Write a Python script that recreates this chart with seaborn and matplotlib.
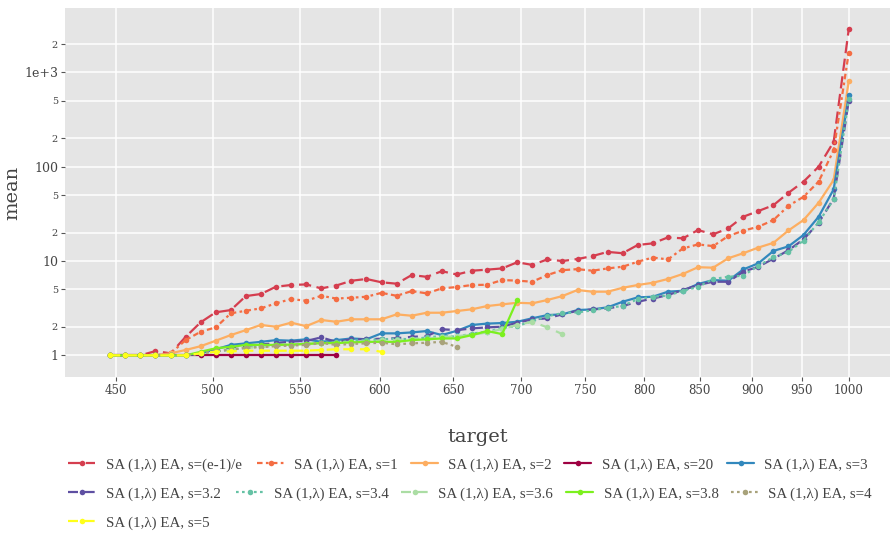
import matplotlib
matplotlib.use('Agg')
import matplotlib.pyplot as plt
import seaborn as sns
import pandas as pd
from matplotlib.lines import Line2D
from matplotlib.ticker import NullLocator

# target values (x) shared by all runs
target = [447.2, 454.6, 462.1, 469.8, 477.6, 485.5, 493.5, 501.7, 510.0, 518.4,
          527.0, 535.7, 544.6, 553.6, 562.8, 572.1, 581.6, 591.2, 601.0, 611.0,
          621.1, 631.4, 641.8, 652.4, 663.3, 674.2, 685.4, 696.8, 708.3, 720.0,
          731.9, 744.1, 756.4, 768.9, 781.6, 794.6, 807.7, 821.1, 834.7, 848.5,
          862.6, 876.9, 891.4, 906.2, 921.2, 936.4, 951.9, 967.7, 983.7, 1000.0]

mean_s_e = [1.0, 1.0, 1.0, 1.11, 1.05, 1.57, 2.24, 2.86, 3.02, 4.25,
            4.47, 5.34, 5.57, 5.65, 5.13, 5.5, 6.18, 6.45, 5.95, 5.75,
            7.1, 6.8, 7.8, 7.2, 7.9, 8.1, 8.35, 9.7, 9.1, 10.4,
            10.0, 10.5, 11.3, 12.5, 12.1, 14.8, 15.4, 17.8, 17.4, 21.3,
            19.2, 22.2, 29.5, 33.9, 39.1, 52.9, 69.5, 100.0, 184.0, 2870.0]
mean_s1 = [1.0, 1.0, 1.0, 1.0, 1.05, 1.45, 1.78, 1.98, 2.79, 2.97,
           3.15, 3.56, 3.95, 3.79, 4.28, 4.0, 4.08, 4.18, 4.6, 4.28,
           4.8, 4.54, 5.13, 5.3, 5.57, 5.6, 6.28, 6.2, 6.03, 7.1,
           8.0, 8.2, 7.9, 8.35, 8.7, 9.83, 10.9, 10.4, 13.6, 15.0,
           14.4, 18.4, 21.0, 23.1, 27.2, 38.5, 48.0, 69.5, 150.0, 1620.0]
mean_s2 = [1.0, 1.0, 1.0, 1.0, 1.05, 1.14, 1.25, 1.43, 1.64, 1.85,
           2.1, 2.01, 2.22, 2.04, 2.37, 2.27, 2.41, 2.41, 2.41, 2.72,
           2.63, 2.83, 2.83, 2.95, 3.08, 3.33, 3.47, 3.61, 3.56, 3.86,
           4.25, 4.93, 4.73, 4.73, 5.2, 5.57, 5.88, 6.45, 7.3, 8.6,
           8.5, 10.7, 12.1, 13.9, 15.6, 21.1, 27.2, 41.5, 72.5, 809.0]
mean_s20 = [1.0, 1.0, 1.0, 1.0, 1.0, 1.0, 1.0, 1.0, 1.0, 1.0,
            1.0, 1.0, 1.0, 1.0, 1.0, 1.0]
mean_s3 = [1.0, 1.0, 1.0, 1.0, 1.0, 1.0, 1.05, 1.16, 1.29, 1.34,
           1.39, 1.45, 1.43, 1.48, 1.39, 1.45, 1.51, 1.48, 1.71, 1.71,
           1.75, 1.81, 1.64, 1.82, 2.1, 2.17, 2.2, 2.27, 2.47, 2.67,
           2.72, 3.02, 3.07, 3.23, 3.7, 4.12, 4.18, 4.73, 4.84, 5.7,
           6.28, 6.18, 8.15, 9.46, 12.8, 14.3, 18.9, 29.5, 57.6, 573.0]
mean_s32 = [1.0, 1.0, 1.0, 1.0, 1.0, 1.0, 1.05, 1.12, 1.2, 1.25,
            1.3, 1.35, 1.4, 1.42, 1.55, 1.39, 1.48, 1.48, 1.5, 1.52,
            1.57, 1.6, 1.89, 1.85, 1.93, 1.98, 2.01, 2.22, 2.4, 2.47,
            2.72, 2.97, 3.07, 3.15, 3.33, 3.7, 4.0, 4.36, 4.93, 5.57,
            6.03, 6.03, 7.7, 8.7, 10.6, 13.0, 17.0, 25.4, 46.0, 500.0]
mean_s34 = [1.0, 1.0, 1.0, 1.0, 1.0, 1.0, 1.05, 1.1, 1.15, 1.2,
            1.25, 1.28, 1.3, 1.33, 1.35, 1.38, 1.42, 1.45, 1.48, 1.5,
            1.48, 1.55, 1.6, 1.58, 1.7, 1.78, 1.95, 2.05, 2.3, 2.6,
            2.8, 2.85, 3.0, 3.2, 3.33, 3.95, 4.18, 4.3, 4.84, 5.3,
            6.45, 6.8, 7.0, 8.9, 11.0, 12.5, 16.5, 25.8, 45.0, 520.0]
mean_s36 = [1.0, 1.0, 1.0, 1.0, 1.0, 1.0, 1.05, 1.1, 1.15, 1.2,
            1.22, 1.28, 1.3, 1.32, 1.35, 1.35, 1.4, 1.4, 1.45, 1.45,
            1.5, 1.5, 1.55, 1.6, 1.65, 1.75, 1.9, 2.1, 2.27, 1.98,
            1.68]
mean_s38 = [1.0, 1.0, 1.0, 1.0, 1.0, 1.0, 1.09, 1.19, 1.23, 1.29,
            1.29, 1.29, 1.3, 1.32, 1.35, 1.35, 1.37, 1.39, 1.39, 1.39,
            1.45, 1.48, 1.51, 1.51, 1.64, 1.81, 1.68, 3.86]
mean_s4 = [1.0, 1.0, 1.0, 1.0, 1.0, 1.0, 1.05, 1.1, 1.15, 1.2,
           1.22, 1.25, 1.27, 1.29, 1.35, 1.29, 1.32, 1.34, 1.36, 1.31,
           1.34, 1.36, 1.39, 1.23]
mean_s5 = [1.0, 1.0, 1.0, 1.0, 1.0, 1.0, 1.05, 1.09, 1.1, 1.12,
           1.12, 1.12, 1.12, 1.12, 1.14, 1.16, 1.16, 1.16, 1.09]

names = ['SA (1,λ) EA, s=(e-1)/e', 'SA (1,λ) EA, s=1', 'SA (1,λ) EA, s=2',
         'SA (1,λ) EA, s=20', 'SA (1,λ) EA, s=3', 'SA (1,λ) EA, s=3.2',
         'SA (1,λ) EA, s=3.4', 'SA (1,λ) EA, s=3.6', 'SA (1,λ) EA, s=3.8',
         'SA (1,λ) EA, s=4', 'SA (1,λ) EA, s=5']
values = [mean_s_e, mean_s1, mean_s2, mean_s20, mean_s3, mean_s32,
          mean_s34, mean_s36, mean_s38, mean_s4, mean_s5]

colors = ['#d53e4f', '#f46d43', '#fdae61', '#9e0142', '#3288bd', '#5e4fa2',
          '#66c2a5', '#abdda4', '#7cf01e', '#a8a27a', '#ffff1a']
dash_list = [(5.5, 2.5), (2.5, 1.5, 1.2, 1.5), '', '', '', (4.5, 3),
             (1.2, 1.5), (4.5, 3), '', (1.2, 1.5), (4.5, 3)]

rows = []
for name, vals in zip(names, values):
    for t, m in zip(target, vals):
        rows.append((name, t, m))
df = pd.DataFrame(rows, columns=['algo', 'target', 'mean'])

sns.set_theme(style='darkgrid', rc={
    'axes.facecolor': '#e5e5e5',
    'grid.color': 'white',
    'grid.linewidth': 1.1,
    'xtick.bottom': True, 'ytick.left': True,
    'xtick.major.size': 3, 'ytick.major.size': 3,
    'xtick.major.width': 0.8, 'ytick.major.width': 0.8,
    'xtick.color': '#555555', 'ytick.color': '#555555',
    'xtick.major.pad': 2, 'ytick.major.pad': 2,
})
plt.rcParams['font.family'] = ['DejaVu Serif', 'DejaVu Sans']

fig, ax = plt.subplots(figsize=(8.92, 5.35), dpi=100)
fig.subplots_adjust(left=0.0729, right=0.9978, top=0.985, bottom=0.2953)
ax.set_xscale('log')
ax.set_yscale('log')

palette = dict(zip(names, colors))
dashes = dict(zip(names, dash_list))
sns.lineplot(data=df, x='target', y='mean', hue='algo', style='algo',
             hue_order=names, style_order=names, palette=palette,
             dashes=dashes, markers={n: 'o' for n in names},
             markersize=4, markeredgewidth=0, linewidth=1.6,
             errorbar=None, sort=False, legend=False, ax=ax)

ax.set_xlim(425.7, 1046)
ax.set_ylim(0.589, 4819)
xt = [450, 500, 550, 600, 650, 700, 750, 800, 850, 900, 950, 1000]
ax.set_xticks(xt)
ax.set_xticklabels([str(v) for v in xt], fontsize=8.5, color='#444444')
yt = [1, 2, 5, 10, 20, 50, 100, 200, 500, 1000, 2000]
ylab = ['1', '2', '5', '10', '2', '5', '100', '2', '5', '1e+3', '2']
ax.set_yticks(yt)
ax.set_yticklabels(ylab, color='#444444')
for lab, txt in zip(ax.get_yticklabels(), ylab):
    lab.set_fontsize(9 if txt in ('1', '10', '100', '1e+3') else 7)
ax.xaxis.set_minor_locator(NullLocator())
ax.yaxis.set_minor_locator(NullLocator())
for sp in ax.spines.values():
    sp.set_visible(False)

ax.set_xlabel('target', fontsize=14, color='#444444', labelpad=22)
ax.set_ylabel('mean', fontsize=14, color='#444444', labelpad=2)

# legend laid out like the original flowing horizontal legend
pos = [(68, 465), (257, 465), (411, 465), (564, 465), (727, 465),
       (68, 494), (236, 494), (401, 494), (566, 494), (731, 494),
       (68, 523)]
W, H = 892, 535
for name, c, d, (px, py) in zip(names, colors, dash_list, pos):
    h = Line2D([], [], color=c, lw=1.6, marker='o', markersize=4,
               markeredgewidth=0)
    if d:
        h.set_dashes(d)
    fig.legend(handles=[h], labels=[name], loc='center left',
               bbox_to_anchor=(px / W, 1 - py / H), frameon=False,
               borderpad=0, borderaxespad=0, handlelength=1.8,
               handletextpad=0.7,
               prop={'family': 'Liberation Serif', 'size': 10.8},
               labelcolor='#444444')

fig.savefig('out.png', dpi=100)
